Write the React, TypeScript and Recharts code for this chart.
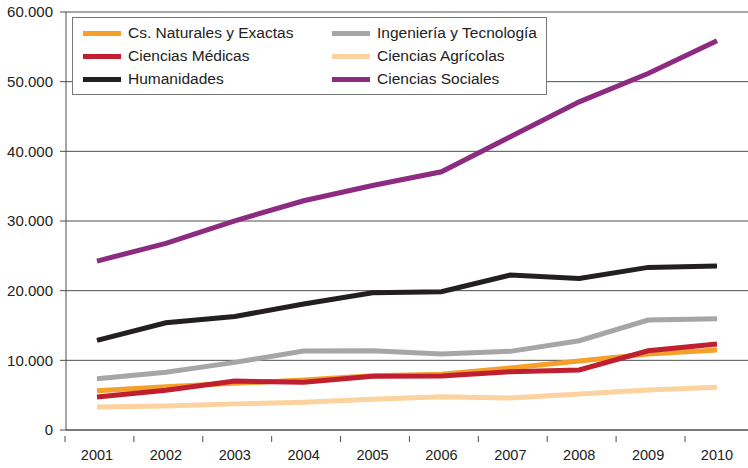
import { LineChart, Line, XAxis, YAxis, CartesianGrid } from 'recharts';

const years = ['2001', '2002', '2003', '2004', '2005', '2006', '2007', '2008', '2009', '2010'];

const naturales = [5640, 6200, 6700, 7170, 7800, 8000, 8900, 9900, 10900, 11480];
const ingenieria = [7360, 8280, 9710, 11330, 11380, 10900, 11290, 12810, 15780, 15970];
const medicas = [4740, 5700, 7030, 6840, 7700, 7750, 8370, 8610, 11380, 12340];
const agricolas = [3300, 3450, 3750, 3970, 4400, 4780, 4590, 5170, 5740, 6120];
const humanidades = [12870, 15400, 16300, 18080, 19700, 19840, 22240, 21760, 23340, 23530];
const sociales = [24250, 26790, 30030, 32900, 35100, 37060, 42080, 47100, 51170, 55860];

const yTicks = [0, 10000, 20000, 30000, 40000, 50000, 60000];

// legend order (row by row, like the original)
const series = [
    { key: 'naturales', name: 'Cs. Naturales y Exactas', color: '#F4A02B', values: naturales },
    { key: 'ingenieria', name: 'Ingeniería y Tecnología', color: '#A6A6A9', values: ingenieria },
    { key: 'medicas', name: 'Ciencias Médicas', color: '#BF1F2E', values: medicas },
    { key: 'agricolas', name: 'Ciencias Agrícolas', color: '#FCD29E', values: agricolas },
    { key: 'humanidades', name: 'Humanidades', color: '#231F20', values: humanidades },
    { key: 'sociales', name: 'Ciencias Sociales', color: '#8C2B80', values: sociales },
];

const data = years.map((year, i) => {
    const row: any = { year };
    series.forEach(s => { row[s.key] = s.values[i]; });
    return row;
});

const FONT = '"Liberation Sans", Arial, Helvetica, sans-serif';
const AXIS = '#4d4d4d';

const fmt = (v: number) => (v === 0 ? '0' : `${v / 1000}.000`);

// x tick: label at the point, tick mark between categories
const YearTick = ({ x, y, payload }: any) => (
    <g>
        <line x1={x - 32} x2={x - 32} y1={y - 14} y2={y - 8} stroke={AXIS} strokeWidth={1} />
        <text x={x} y={y} dy="0.71em" textAnchor="middle" fill="#222" fontSize={14.5} fontFamily={FONT}>
            {payload.value}
        </text>
    </g>
);

export default function App() {
    return (
        <div style={{ position: 'absolute', left: 0, top: 0, width: 748, height: 468, overflow: 'hidden', background: '#fff' }}>
            <LineChart
                width={748}
                height={468}
                data={data}
                margin={{ top: 12, right: 0, left: 6, bottom: 8 }}
            >
                <CartesianGrid vertical={false} stroke={AXIS} strokeWidth={1} />
                <XAxis
                    dataKey="year"
                    padding={{ left: 31, right: 31 }}
                    axisLine={{ stroke: AXIS }}
                    tickLine={false}
                    tickMargin={14}
                    height={30}
                    tick={<YearTick />}
                    interval={0}
                />
                <YAxis
                    width={60}
                    domain={[0, 60000]}
                    ticks={yTicks}
                    tickFormatter={fmt}
                    axisLine={{ stroke: AXIS }}
                    tickLine={{ stroke: AXIS }}
                    tickSize={6}
                    tickMargin={7}
                    tick={{ fill: '#222', fontSize: 15, fontFamily: FONT }}
                />
                {series.map(s => (
                    <Line
                        key={s.key}
                        dataKey={s.key}
                        name={s.name}
                        stroke={s.color}
                        strokeWidth={5}
                        strokeLinecap="butt"
                        type="linear"
                        dot={false}
                        activeDot={false}
                        isAnimationActive={false}
                    />
                ))}
            </LineChart>

            {/* Legend */}
            <div
                style={{
                    position: 'absolute',
                    left: 72,
                    top: 17,
                    width: 473,
                    height: 76,
                    background: '#fff',
                    border: '1px solid #777',
                    fontFamily: FONT,
                    fontSize: 15.5,
                    color: '#222',
                }}
            >
                {series.map((s, i) => {
                    const col = i % 2;
                    const row = Math.floor(i / 2);
                    return (
                        <div
                            key={s.key}
                            style={{
                                position: 'absolute',
                                left: col === 0 ? 10 : 259,
                                top: 4 + row * 23,
                                height: 22,
                                display: 'flex',
                                alignItems: 'center',
                                whiteSpace: 'nowrap',
                            }}
                        >
                            <span style={{ display: 'inline-block', width: 38, height: 5, background: s.color, marginRight: 7 }} />
                            <span>{s.name}</span>
                        </div>
                    );
                })}
            </div>
        </div>
    );
}
